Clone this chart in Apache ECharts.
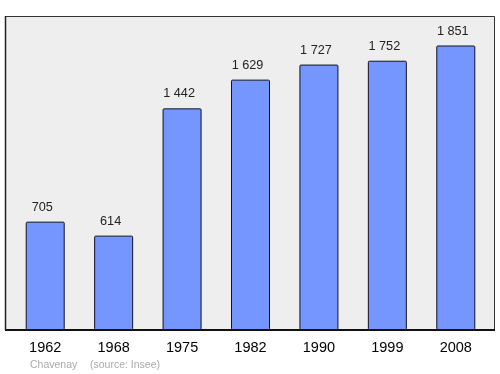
<!DOCTYPE html>
<html><head><meta charset="utf-8">
<script src="https://cdn.jsdelivr.net/npm/echarts@6/dist/echarts.min.js"></script>
<style>html,body{margin:0;padding:0;background:#fff}#c{width:500px;height:374px}</style>
</head><body><div id="c"></div>
<script>
var years = ['1962','1968','1975','1982','1990','1999','2008'];
var population = [705, 614, 1442, 1629, 1727, 1752, 1851];
var footerTexts = ['Chavenay', '(source: Insee)'];

function fmt(v){ return String(v).replace(/\B(?=(\d{3})+(?!\d))/g, ' '); }

var chart = echarts.init(document.getElementById('c'), null, {renderer:'canvas'});
chart.setOption({
  animation:false,
  grid:{left:11, right:10, top:16, bottom:44},
  xAxis:{
    type:'category', data:years,
    axisLine:{show:false}, axisTick:{show:false},
    axisLabel:{color:'#000', fontSize:14.5, fontFamily:'Liberation Sans, Arial, sans-serif', margin:10}
  },
  yAxis:{type:'value', min:0, max:2043, show:false, splitLine:{show:false}},
  graphic:[
    {type:'rect', z:-10, shape:{x:5.5, y:16.5, width:489, height:313}, style:{fill:'#eeeeee', stroke:'#333', lineWidth:1}},
    {type:'line', z:-9, shape:{x1:5, y1:330, x2:495, y2:330}, style:{stroke:'#111', lineWidth:2}},
    {type:'line', z:-9, shape:{x1:5.5, y1:16, x2:5.5, y2:330}, style:{stroke:'#222', lineWidth:1.5}},
    {type:'text', left:30, top:359.5, style:{text:footerTexts[0], fill:'#aaaaaa', fontSize:10.5, fontFamily:'Liberation Sans, Arial, sans-serif'}},
    {type:'text', left:90, top:359.5, style:{text:footerTexts[1], fill:'#aaaaaa', fontSize:10.5, fontFamily:'Liberation Sans, Arial, sans-serif'}}
  ],
  series:[{
    type:'bar', data:population, barWidth:39,
    itemStyle:{color:'#7596ff', borderColor:'#111122', borderWidth:1, borderRadius:1},
    label:{show:true, position:'top', distance:8, offset:[-3,0], color:'#222', fontSize:12.7,
      fontFamily:'Liberation Sans, Arial, sans-serif',
      formatter:function(p){return fmt(p.value);}}
  }]
});
</script></body></html>
